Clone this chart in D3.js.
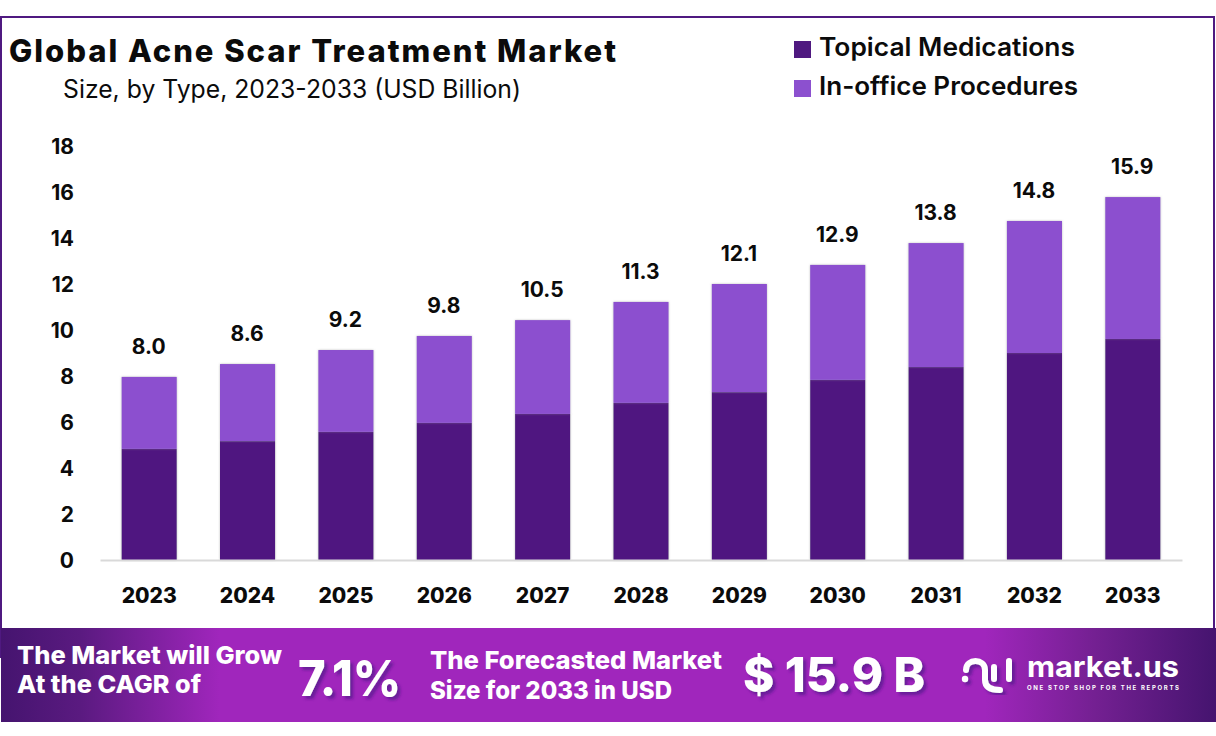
<!DOCTYPE html>
<html><head><meta charset="utf-8">
<script src="https://cdn.jsdelivr.net/npm/d3@7/dist/d3.min.js"></script>
<style>
html,body{margin:0;padding:0;background:#fff;overflow:hidden}
svg{display:block}
text{font-family:Inter,"Noto Sans",sans-serif;fill:#0b0b0b}
</style></head><body>
<svg id="c" width="1216" height="736"></svg>
<script>
const categories=["2023","2024","2025","2026","2027","2028","2029","2030","2031","2032","2033"];
const topical=[4.83,5.17,5.57,5.96,6.35,6.83,7.30,7.83,8.39,9.00,9.61];
const inOffice=[3.13,3.35,3.56,3.78,4.08,4.39,4.70,5.00,5.39,5.74,6.17];
const totalLabels=["8.0","8.6","9.2","9.8","10.5","11.3","12.1","12.9","13.8","14.8","15.9"];
const yTicks=[0,2,4,6,8,10,12,14,16,18];
const seriesNames=["Topical Medications","In-office Procedures"];
const seriesColors=["#4f1980","#8c50cf"];

const svg=d3.select("#c");
const defs=svg.append("defs");
const g=defs.append("linearGradient").attr("id","band");
[[0,"#45146f"],[0.065,"#5a1a80"],[0.18,"#a026bc"],[0.81,"#a026bc"],[0.9,"#742092"],[1,"#45146f"]]
 .forEach(([o,c])=>g.append("stop").attr("offset",o).attr("stop-color",c));
const bs=defs.append("filter").attr("id","barShadow").attr("x","-10%").attr("width","120%");
bs.append("feDropShadow").attr("dx",0).attr("dy",0).attr("stdDeviation",1.3).attr("flood-color","#888").attr("flood-opacity",.55);
const ts=defs.append("filter").attr("id","txtShadow").attr("x","-10%").attr("y","-10%").attr("width","125%").attr("height","125%");
ts.append("feDropShadow").attr("dx",3).attr("dy",3).attr("stdDeviation",1.5).attr("flood-color","#5a1590").attr("flood-opacity",.8);

// frame
svg.append("rect").attr("x",1).attr("y",17).attr("width",1213).attr("height",640)
  .attr("fill","none").attr("stroke","#4f1980").attr("stroke-width",2);

// titles
function label(t,x,y,size,weight,width,opts={}){
  const n=svg.append("text").attr("x",x).attr("y",y).attr("font-size",size).attr("font-weight",weight).text(t);
  if(width) n.attr("textLength",width).attr("lengthAdjust",opts.adjust||"spacingAndGlyphs");
  if(opts.fill) n.style("fill",opts.fill);
  if(opts.filter) n.attr("filter",opts.filter);
  if(opts.anchor) n.attr("text-anchor",opts.anchor);
  return n;
}
label("Global Acne Scar Treatment Market",9,62,31,800,607,{adjust:"spacing"});
label("Size, by Type, 2023-2033 (USD Billion)",63,98,25,400,458);

// scales
const x=d3.scaleBand().domain(categories).range([100,1182]).paddingInner(0.44).paddingOuter(0.22);
const y=d3.scaleLinear().domain([0,18]).range([560,146]);

// axes
const yAxis=svg.append("g").attr("transform","translate(74,1)")
  .call(d3.axisLeft(y).tickValues(yTicks).tickSize(0).tickPadding(0));
yAxis.select(".domain").remove();
yAxis.selectAll("text").attr("font-size",21).attr("font-weight",700).attr("font-family","Inter").style("fill","#0b0b0b");

const stackData=categories.map((c,i)=>({c,a:topical[i],b:inOffice[i]}));
const stacked=d3.stack().keys(["a","b"])(stackData);
svg.selectAll("g.s").data(stacked).join("g").attr("class","s")
  .attr("fill",(d,i)=>seriesColors[i]).attr("filter","url(#barShadow)")
  .selectAll("rect").data(d=>d).join("rect")
  .attr("x",d=>x(d.data.c)).attr("width",x.bandwidth())
  .attr("y",d=>y(d[1])).attr("height",d=>y(d[0])-y(d[1]));

const xAxis=svg.append("g").attr("transform","translate(0,560)")
  .call(d3.axisBottom(x).tickSize(0).tickPadding(28));
xAxis.select(".domain").attr("stroke","#d9d9d9").attr("stroke-width",2);
xAxis.selectAll("text").attr("font-size",21).attr("font-weight",800).attr("font-family","Inter").style("fill","#0b0b0b");

// totals
svg.selectAll("text.tot").data(stackData).join("text").attr("class","tot")
  .attr("x",d=>x(d.c)+x.bandwidth()/2-0.5).attr("y",d=>y(d.a+d.b)-23)
  .attr("text-anchor","middle").attr("font-size",21).attr("font-weight",700)
  .text((d,i)=>totalLabels[i]);

// legend
seriesNames.forEach((n,i)=>{
  const yy=[41,80][i];
  svg.append("rect").attr("x",794).attr("y",yy).attr("width",17).attr("height",17).attr("fill",seriesColors[i]);
  label(n,819,[56,95][i],25,600,[256,259][i]);
});

// banner
svg.append("rect").attr("x",1).attr("y",628).attr("width",1215).attr("height",94).attr("fill","url(#band)");
const W={fill:"#fff"};
label("The Market will Grow",17,664,24.5,800,265,W);
label("At the CAGR of",17,693,24.5,800,184,W);
label("7.1%",298,696,50,800,103,{fill:"#fff",filter:"url(#txtShadow)"});
label("The Forecasted Market",430,669,24.5,800,292,W);
label("Size for 2033 in USD",430,699,24.5,800,242,W);
label("$ 15.9 B",743,692,48,800,182,{fill:"#fff",filter:"url(#txtShadow)"});

// logo glyph
const logo=svg.append("g").attr("fill","none").attr("stroke","#fff").attr("stroke-linecap","round").attr("filter","url(#txtShadow)");
logo.append("path").attr("stroke-width",6).attr("d","M966 670C966 658 985 658 985 670V680C985 688 992 690 1000 690");
logo.append("path").attr("stroke-width",6).attr("d","M994 667V679M1009 661V679");
logo.append("circle").attr("cx",965).attr("cy",679).attr("r",3.2).attr("fill","#fff").attr("stroke","none");
label("market.us",1027,677,29,700,152,W);
label("ONE STOP SHOP FOR THE REPORTS",1027,690,6,700,152,{fill:"#fff",adjust:"spacing"});
</script></body></html>
